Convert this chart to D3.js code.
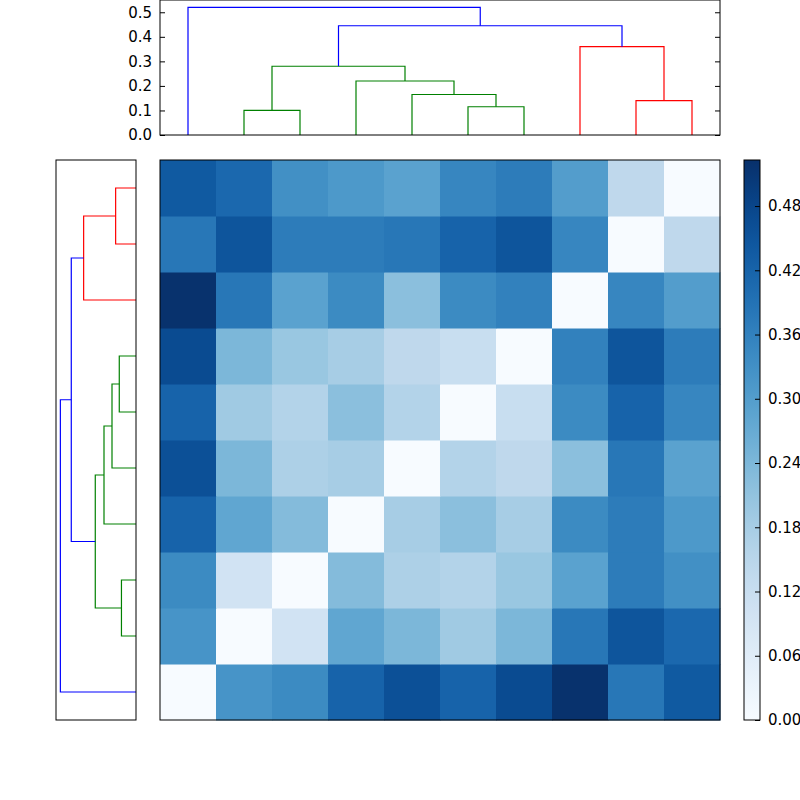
<!DOCTYPE html>
<html>
<head>
<meta charset="utf-8">
<script src="https://d3js.org/d3.v7.min.js"></script>
<style>body{margin:0;background:#fff}</style>
</head>
<body>
<div id="chart"></div>
<script>
// dendrogram links: leaf positions in leaf units (leaf k at 5 + 10k), merge heights
const linkX = [
  [15, 15, 25, 25], [55, 55, 65, 65], [45, 45, 60, 60], [35, 35, 52.5, 52.5],
  [20, 20, 43.75, 43.75], [85, 85, 95, 95], [75, 75, 90, 90],
  [31.875, 31.875, 82.5, 82.5], [5, 5, 57.1875, 57.1875]
];
const linkH = [
  [0, 0.10, 0.10, 0], [0, 0.115, 0.115, 0], [0, 0.165, 0.165, 0.115], [0, 0.22, 0.22, 0.165],
  [0.10, 0.28, 0.28, 0.22], [0, 0.14, 0.14, 0], [0, 0.36, 0.36, 0.14],
  [0.28, 0.445, 0.445, 0.36], [0, 0.52, 0.52, 0.445]
];
const linkColor = ["green", "green", "green", "green", "green", "red", "red", "blue", "blue"];
const heightTicks = [0, 0.1, 0.2, 0.3, 0.4, 0.5];
const cbarTicks = [0, 0.06, 0.12, 0.18, 0.24, 0.30, 0.36, 0.42, 0.48];
// distance matrix, row 0 = bottom row
const D = [
  [0, 0.32, 0.34, 0.42, 0.46, 0.42, 0.47, 0.52, 0.38, 0.44],
  [0.32, 0, 0.10, 0.28, 0.24, 0.19, 0.24, 0.38, 0.45, 0.41],
  [0.34, 0.10, 0, 0.23, 0.17, 0.16, 0.20, 0.29, 0.37, 0.33],
  [0.42, 0.28, 0.23, 0, 0.18, 0.22, 0.18, 0.34, 0.37, 0.31],
  [0.46, 0.24, 0.17, 0.18, 0, 0.16, 0.14, 0.22, 0.38, 0.29],
  [0.42, 0.19, 0.16, 0.22, 0.16, 0, 0.12, 0.34, 0.42, 0.35],
  [0.47, 0.24, 0.20, 0.18, 0.14, 0.12, 0, 0.36, 0.45, 0.37],
  [0.52, 0.38, 0.29, 0.34, 0.22, 0.34, 0.36, 0, 0.35, 0.30],
  [0.38, 0.45, 0.37, 0.37, 0.38, 0.42, 0.45, 0.35, 0, 0.14],
  [0.44, 0.41, 0.33, 0.31, 0.29, 0.35, 0.37, 0.30, 0.14, 0]
];
const vmax = 0.523;

const links = linkX.map((x, k) => ({i: x, d: linkH[k], c: linkColor[k]}));

const svg = d3.select("#chart").append("svg").attr("width", 800).attr("height", 800)
  .style("font-family", "DejaVu Sans").style("font-size", "15px");

const hm = {x: 160, y: 160, w: 560, h: 560};
const lx = d3.scaleLinear().domain([0, 100]).range([hm.x, hm.x + hm.w]);
const line = d3.line();

// top dendrogram
const tp = {x: 160, y: 0, w: 560, h: 135};
const ty = d3.scaleLinear().domain([0, 0.55]).range([tp.y + tp.h, tp.y]);
svg.append("g").selectAll("path").data(links).join("path")
  .attr("fill", "none").attr("stroke", d => d.c).attr("stroke-width", 1.2)
  .attr("d", d => line(d.i.map((v, k) => [lx(v), ty(d.d[k])])));
svg.append("rect").attr("x", tp.x).attr("y", tp.y).attr("width", tp.w).attr("height", tp.h)
  .attr("fill", "none").attr("stroke", "#000");
const tAxis = svg.append("g").attr("transform", `translate(${tp.x},0)`)
  .call(d3.axisLeft(ty).tickValues(heightTicks).tickFormat(d3.format(".1f")).tickSizeInner(-5).tickSizeOuter(0).tickPadding(8));
tAxis.select(".domain").remove();
tAxis.selectAll("text").style("font-size", "15px").style("font-family", "DejaVu Sans").attr("fill", "#000");
svg.append("g").attr("transform", `translate(${tp.x + tp.w},0)`)
  .call(d3.axisRight(ty).tickValues(heightTicks).tickFormat("").tickSizeInner(-5).tickSizeOuter(0))
  .select(".domain").remove();

// left dendrogram (leaves mirrored vertically)
const lf = {x: 56, y: 160, w: 80, h: 560};
const ly = d3.scaleLinear().domain([0, 100]).range([hm.y + hm.h, hm.y]);
const lxh = d3.scaleLinear().domain([0, 0.55]).range([lf.x + lf.w, lf.x]);
svg.append("g").selectAll("path").data(links).join("path")
  .attr("fill", "none").attr("stroke", d => d.c).attr("stroke-width", 1.2)
  .attr("d", d => line(d.i.map((v, k) => [lxh(d.d[k]), ly(v)])));
svg.append("rect").attr("x", lf.x).attr("y", lf.y).attr("width", lf.w).attr("height", lf.h)
  .attr("fill", "none").attr("stroke", "#000");

// heatmap
const color = d3.scaleSequential(d3.interpolateBlues).domain([0, vmax]);
const cx = d3.scaleBand().domain(d3.range(10)).range([hm.x, hm.x + hm.w]);
const cy = d3.scaleBand().domain(d3.range(10)).range([hm.y + hm.h, hm.y]);
const cells = [];
D.forEach((row, i) => row.forEach((v, j) => cells.push({i, j, v})));
svg.append("g").selectAll("rect").data(cells).join("rect")
  .attr("x", d => cx(d.j)).attr("y", d => cy(d.i))
  .attr("width", cx.bandwidth() + 0.5).attr("height", cy.bandwidth() + 0.5)
  .attr("fill", d => color(d.v));
svg.append("rect").attr("x", hm.x).attr("y", hm.y).attr("width", hm.w).attr("height", hm.h)
  .attr("fill", "none").attr("stroke", "#000");

// colorbar
const cb = {x: 744, y: 160, w: 16, h: 560};
const cby = d3.scaleLinear().domain([0, vmax]).range([cb.y + cb.h, cb.y]);
const grad = svg.append("defs").append("linearGradient").attr("id", "cbg")
  .attr("x1", 0).attr("x2", 0).attr("y1", 1).attr("y2", 0);
d3.range(0, 1.0001, 0.05).forEach(t => grad.append("stop").attr("offset", t).attr("stop-color", color(t * vmax)));
svg.append("rect").attr("x", cb.x).attr("y", cb.y).attr("width", cb.w).attr("height", cb.h)
  .attr("fill", "url(#cbg)").attr("stroke", "#000");
const cAxis = svg.append("g").attr("transform", `translate(${cb.x + cb.w},0)`)
  .call(d3.axisRight(cby).tickValues(cbarTicks).tickFormat(d3.format(".2f")).tickSizeInner(-5).tickSizeOuter(0).tickPadding(8));
cAxis.select(".domain").remove();
cAxis.selectAll("text").style("font-size", "15px").style("font-family", "DejaVu Sans").attr("fill", "#000");
</script>
</body>
</html>
